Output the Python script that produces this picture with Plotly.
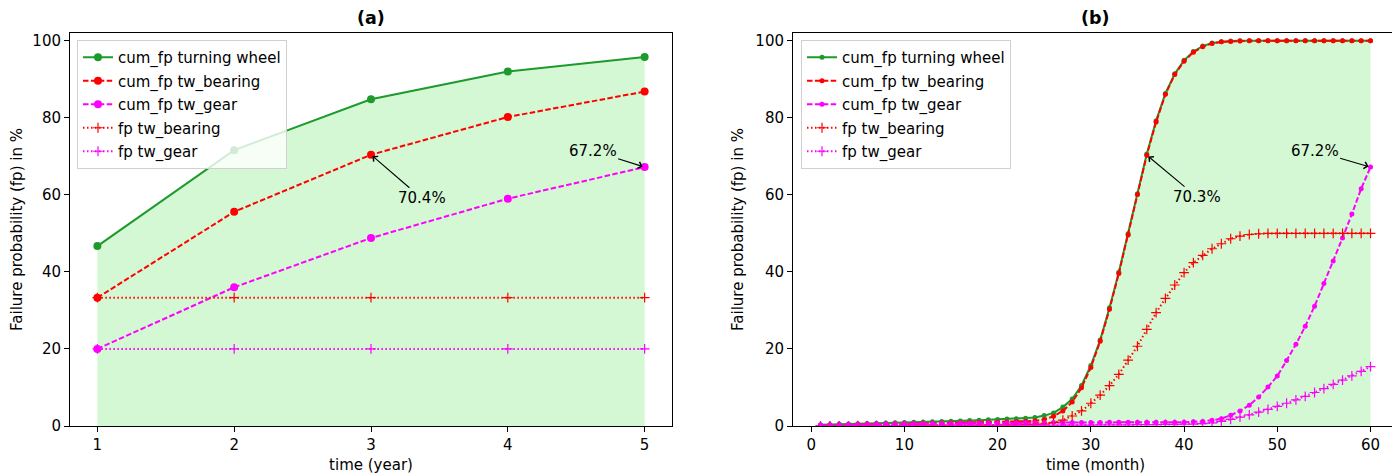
import plotly.graph_objects as go

# ---------------- data: panel (a) ----------------
years = [1, 2, 3, 4, 5]
a_cum_wheel = [46.7, 71.6, 84.8, 92.0, 95.8]
a_cum_bearing = [33.3, 55.6, 70.4, 80.2, 86.8]
a_cum_gear = [20.0, 36.0, 48.8, 59.0, 67.2]
a_fp_bearing = [33.3, 33.3, 33.3, 33.3, 33.3]
a_fp_gear = [20.0, 20.0, 20.0, 20.0, 20.0]

# ---------------- data: panel (b) ----------------
months = list(range(1, 61))
b_cum_wheel = [0.3, 0.4, 0.5, 0.55, 0.6, 0.65, 0.7, 0.8, 0.85, 0.9,
               1.0, 1.05, 1.1, 1.2, 1.25, 1.3, 1.4, 1.5, 1.6, 1.7,
               1.8, 1.9, 2.0, 2.2, 2.7, 3.4, 4.9, 7.0, 10.5, 15.7,
               22.3, 30.7, 39.9, 49.9, 60.3, 70.6, 79.2, 86.3, 91.4, 94.9,
               97.2, 98.6, 99.4, 99.7, 99.9, 100.0, 100.0, 100.0, 100.0, 100.0,
               100.0, 100.0, 100.0, 100.0, 100.0, 100.0, 100.0, 100.0, 100.0, 100.0]
b_cum_bearing = [0.1, 0.15, 0.2, 0.25, 0.3, 0.35, 0.4, 0.45, 0.5, 0.5,
                 0.55, 0.6, 0.65, 0.7, 0.75, 0.8, 0.85, 0.9, 0.95, 1.0,
                 1.05, 1.1, 1.2, 1.3, 1.7, 2.5, 3.9, 6.2, 9.9, 15.2,
                 22.0, 30.3, 39.6, 49.6, 60.1, 70.3, 78.9, 86.1, 91.2, 94.7,
                 97.0, 98.4, 99.3, 99.7, 99.8, 99.9, 100.0, 100.0, 100.0, 100.0,
                 100.0, 100.0, 100.0, 100.0, 100.0, 100.0, 100.0, 100.0, 100.0, 100.0]
b_cum_gear = [0.2, 0.25, 0.3, 0.3, 0.35, 0.4, 0.4, 0.45, 0.5, 0.5,
              0.55, 0.6, 0.6, 0.65, 0.65, 0.7, 0.7, 0.75, 0.75, 0.8,
              0.8, 0.8, 0.85, 0.85, 0.85, 0.9, 0.9, 0.9, 0.9, 0.9,
              0.9, 0.95, 0.95, 0.95, 0.95, 1.0, 1.0, 1.0, 1.0, 1.0,
              1.1, 1.2, 1.5, 1.9, 2.8, 3.9, 5.4, 7.5, 10.1, 13.0,
              17.0, 21.2, 25.9, 31.1, 37.0, 42.8, 48.8, 55.0, 61.6, 67.2]
b_fp_bearing = [0.05, 0.05, 0.05, 0.05, 0.1, 0.1, 0.1, 0.1, 0.1, 0.15,
                0.15, 0.15, 0.15, 0.2, 0.2, 0.2, 0.2, 0.25, 0.25, 0.25,
                0.3, 0.3, 0.35, 0.4, 0.5, 0.9, 1.5, 2.6, 3.9, 5.9,
                8.0, 10.5, 13.4, 17.1, 20.7, 25.1, 29.4, 33.1, 36.6, 39.8,
                42.4, 44.3, 46.0, 47.3, 48.6, 49.3, 49.7, 49.9, 50.0, 50.0,
                50.0, 50.0, 50.0, 50.0, 50.0, 50.0, 50.0, 50.0, 50.0, 50.0]
b_fp_gear = [0.05, 0.05, 0.05, 0.05, 0.05, 0.05, 0.1, 0.1, 0.1, 0.1,
             0.1, 0.1, 0.1, 0.1, 0.15, 0.15, 0.15, 0.15, 0.15, 0.15,
             0.2, 0.2, 0.2, 0.2, 0.2, 0.2, 0.25, 0.25, 0.25, 0.25,
             0.3, 0.3, 0.3, 0.3, 0.35, 0.35, 0.35, 0.4, 0.4, 0.45,
             0.5, 0.6, 0.8, 1.2, 1.7, 2.3, 2.9, 3.6, 4.3, 5.1,
             5.9, 6.8, 7.7, 8.7, 9.7, 10.8, 11.9, 13.0, 14.2, 15.4]

series_names = ["cum_fp turning wheel", "cum_fp tw_bearing", "cum_fp tw_gear",
                "fp tw_bearing", "fp tw_gear"]
titles = ["(a)", "(b)"]
x_titles = ["time (year)", "time (month)"]
y_title = "Failure probability (fp) in %"

GREEN = "#1c9a2c"
RED = "#ff0000"
MAGENTA = "#ff00ff"
FILL = "rgba(144,238,144,0.4)"
FONT = "DejaVu Sans"
FS = 15
LW = 2.0

fig = go.Figure()


def add_panel(x, wheel, bearing, gear, fpb, fpg, xa, ya, leg, dot_size, plus_size):
    fig.add_trace(go.Scatter(x=x, y=wheel, mode="lines", fill="tozeroy", fillcolor=FILL,
                             line=dict(width=0, color="rgba(0,0,0,0)"), showlegend=False,
                             hoverinfo="skip", xaxis=xa, yaxis=ya))
    styles = [
        (wheel, GREEN, "solid", "circle", dot_size),
        (bearing, RED, "5.5px,2.4px", "circle", dot_size),
        (gear, MAGENTA, "5.5px,2.4px", "circle", dot_size),
        (fpb, RED, "1.5px,2.5px", "cross-thin", plus_size),
        (fpg, MAGENTA, "1.5px,2.5px", "cross-thin", plus_size),
    ]
    for i, (y, c, dash, sym, ms) in enumerate(styles):
        mk = dict(symbol=sym, size=ms, color=c)
        if sym == "cross-thin":
            mk["line"] = dict(width=1.2, color=c)
        fig.add_trace(go.Scatter(x=x, y=y, name=series_names[i], mode="lines+markers",
                                 line=dict(color=c, width=LW, dash=dash), marker=mk,
                                 xaxis=xa, yaxis=ya, legend=leg, legendgroup=leg + str(i)))


add_panel(years, a_cum_wheel, a_cum_bearing, a_cum_gear, a_fp_bearing, a_fp_gear,
          "x", "y", "legend", 8, 7)
add_panel(months, b_cum_wheel, b_cum_bearing, b_cum_gear, b_fp_bearing, b_fp_gear,
          "x2", "y2", "legend2", 5, 7)

# page body has an 8px margin, so the figure is drawn 8px smaller and offset
OFF = 8
W, H = 1400 - OFF, 475 - OFF
ML, MT = 70 - OFF, 33 - OFF
MB = H - (426 - OFF)
MR = W - (1398 - OFF)
PW = W - ML - MR
PH = H - MT - MB
left_dom = [0, (672 - 70) / PW]
right_dom = [(793 - 70) / PW, 1.0]

axis_common = dict(showline=True, mirror=True, linecolor="black", linewidth=1,
                   ticks="outside", ticklen=5, tickwidth=1, tickcolor="black",
                   showgrid=False, zeroline=False,
                   tickfont=dict(family=FONT, size=FS, color="black"))

leg_common = dict(y=1 - 7 / PH, xanchor="left", yanchor="top",
                  bgcolor="rgba(255,255,255,0.8)", bordercolor="#d0d0d0", borderwidth=1,
                  font=dict(family=FONT, size=FS, color="black"), tracegroupgap=1,
                  traceorder="grouped")

fig.update_layout(
    width=W, height=H,
    margin=dict(l=ML, r=MR, t=MT, b=MB),
    paper_bgcolor="white", plot_bgcolor="white",
    font=dict(family=FONT, size=FS, color="black"),
    xaxis=dict(domain=left_dom, range=[0.8, 5.2], tickvals=years, anchor="y",
               title=dict(text=x_titles[0], standoff=6, font=dict(size=FS)), **axis_common),
    yaxis=dict(domain=[0, 1], range=[0, 102], tickvals=[0, 20, 40, 60, 80, 100], anchor="x",
               title=dict(text=y_title, standoff=8, font=dict(size=FS)), **axis_common),
    xaxis2=dict(domain=right_dom, range=[-1.95, 62.95], tickvals=[0, 10, 20, 30, 40, 50, 60],
                anchor="y2", title=dict(text=x_titles[1], standoff=6, font=dict(size=FS)), **axis_common),
    yaxis2=dict(domain=[0, 1], range=[0, 102], tickvals=[0, 20, 40, 60, 80, 100], anchor="x2",
                title=dict(text=y_title, standoff=8, font=dict(size=FS)), **axis_common),
    legend=dict(x=(77 - 70) / PW, **leg_common),
    legend2=dict(x=(801 - 70) / PW, **leg_common),
)

ann_font = dict(family=FONT, size=FS, color="black")
arrows = [
    ("x", "y", years[2], a_cum_bearing[2], 3.37, 59.1, "70.4%"),
    ("x", "y", years[4], a_cum_gear[4], 4.62, 71.4, "67.2%"),
    ("x2", "y2", months[35], b_cum_bearing[35], 41.4, 59.4, "70.3%"),
    ("x2", "y2", months[59], b_cum_gear[59], 54.0, 71.4, "67.2%"),
]
for xr, yr, x, y, tx, ty, t in arrows:
    fig.add_annotation(x=x, y=y, xref=xr, yref=yr, ax=tx, ay=ty, axref=xr, ayref=yr,
                       text=t, showarrow=True, arrowhead=4, arrowsize=1.2, arrowwidth=1.1,
                       arrowcolor="black", font=ann_font, standoff=2)

for i, t in enumerate(titles):
    fig.add_annotation(text="<b>" + t + "</b>", xref=("x" if i == 0 else "x2") + " domain",
                       yref="paper", x=0.5, y=1 + 15 / PH, xanchor="center", yanchor="middle",
                       showarrow=False, font=dict(family=FONT, size=17.5, color="black"))

fig.write_html("out.html")
